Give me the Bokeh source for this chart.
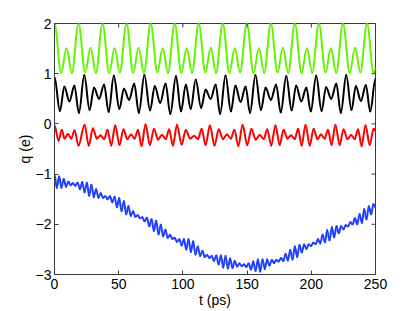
import numpy as np
from bokeh.plotting import figure
from bokeh.models import Range1d, FixedTicker, ColumnDataSource
from bokeh.embed import file_html
from bokeh.resources import INLINE

# ---------------- data (turning points of each curve) -------------
x_ticks = [0, 50, 100, 150, 200, 250]
y_ticks = [-3, -2, -1, 0, 1, 2]
y_tick_labels = ["\u22123", "\u22122", "\u22121", "0", "1", "2"]
x_label = "t (ps)"
y_label = "q (e)"

green_t = [0.0, 5.2, 9.4, 13.5, 18.7, 23.9, 28.1, 32.2, 37.4, 42.6, 46.8, 50.9,
           56.1, 61.3, 65.5, 69.6, 74.9, 80.1, 84.3, 88.4, 93.6, 98.8, 103.0, 107.1,
           112.3, 117.5, 121.7, 125.8, 131.0, 136.2, 140.4, 144.5, 149.8, 155.0, 159.2, 163.3,
           168.5, 173.7, 177.9, 182.0, 187.2, 192.4, 196.6, 200.7, 205.9, 211.1, 215.3, 219.4,
           224.7, 229.9, 234.1, 238.2, 243.4, 248.6, 250.0]
green_q = [2.0, 1.02, 1.5, 1.02, 2.0, 1.03, 1.51, 1.02, 2.0, 1.02, 1.5, 1.03,
           2.0, 1.02, 1.51, 1.02, 2.0, 1.03, 1.5, 1.02, 2.0, 1.02, 1.5, 1.02,
           2.0, 1.03, 1.51, 1.02, 2.0, 1.02, 1.5, 1.03, 2.0, 1.02, 1.5, 1.02,
           2.0, 1.03, 1.51, 1.02, 2.0, 1.02, 1.5, 1.02, 2.0, 1.03, 1.5, 1.02,
           2.0, 1.02, 1.51, 1.03, 2.0, 1.02, 1.1]

black_t = [0.0, 4.2, 7.7, 11.6, 15.5, 19.0,
           23.2, 27.3, 30.8, 34.7, 38.6, 42.2,
           46.2, 50.5, 54.1, 58.1, 62.1, 65.7,
           70.0, 74.4, 78.1, 82.3, 86.5, 90.2,
           94.6, 98.5, 102.3, 106.1,
           110.0, 114.2, 117.7, 121.6, 125.5, 129.0,
           133.2, 137.4, 140.9, 144.9, 148.8, 152.3,
           156.5, 160.8, 164.4, 168.5, 172.6, 176.2,
           180.5, 184.7, 188.2, 192.2, 196.1, 199.6,
           203.8, 208.0, 211.5, 215.5, 219.5, 223.0,
           227.2, 231.3, 234.7, 238.6, 242.5, 245.9, 250.0]
black_q = [0.93, 0.26, 0.74, 0.45, 0.76, 0.22,
           0.97, 0.28, 0.72, 0.50, 0.78, 0.24,
           0.96, 0.30, 0.70, 0.48, 0.80, 0.22,
           0.97, 0.27, 0.75, 0.42, 0.80, 0.20,
           0.95, 0.25, 0.78, 0.30,
           0.88, 0.32, 0.68, 0.50, 0.78, 0.20,
           0.96, 0.25, 0.76, 0.44, 0.74, 0.22,
           0.97, 0.28, 0.72, 0.48, 0.78, 0.23,
           0.95, 0.27, 0.76, 0.45, 0.72, 0.25,
           0.96, 0.26, 0.73, 0.50, 0.80, 0.22,
           0.97, 0.28, 0.75, 0.46, 0.77, 0.25, 0.90]

red_t = [0.0, 3.1, 5.7, 7.8, 10.4, 13.0, 15.6, 18.7,
         23.4, 26.7, 29.9, 33.0, 35.8, 38.7, 41.3, 44.2,
         47.3, 50.6, 53.7, 56.7, 59.6, 62.4, 65.0, 67.8,
         70.9, 74.3, 77.5, 80.7, 83.6, 86.6, 89.3, 92.2,
         95.4, 99.0, 102.3, 105.6, 108.7, 111.8, 114.6, 117.7,
         121.0, 124.6, 127.9, 131.2, 134.3, 137.3, 140.1, 143.2,
         146.5, 150.1, 153.4, 156.7, 159.8, 162.9, 165.7, 168.8,
         172.1, 175.4, 178.4, 181.5, 184.3, 187.1, 189.7, 192.5,
         195.5, 198.8, 201.8, 204.8, 207.6, 210.4, 213.0, 215.8,
         218.8, 222.1, 225.1, 228.2, 231.0, 233.8, 236.4, 239.2,
         242.2, 245.5, 248.5, 250.0]
red_q = [-0.03, -0.33, -0.12, -0.29, -0.20, -0.29, -0.13, -0.43,
         -0.02, -0.43, -0.09, -0.29, -0.23, -0.30, -0.12, -0.43,
         -0.03, -0.42, -0.11, -0.30, -0.21, -0.29, -0.12, -0.44,
         -0.01, -0.42, -0.10, -0.31, -0.22, -0.30, -0.11, -0.43,
         -0.02, -0.41, -0.12, -0.29, -0.24, -0.30, -0.10, -0.42,
         -0.03, -0.43, -0.11, -0.30, -0.21, -0.29, -0.12, -0.44,
         -0.02, -0.42, -0.10, -0.31, -0.22, -0.30, -0.11, -0.43,
         -0.03, -0.42, -0.12, -0.29, -0.23, -0.30, -0.10, -0.43,
         -0.02, -0.43, -0.10, -0.30, -0.21, -0.29, -0.12, -0.42,
         -0.02, -0.42, -0.11, -0.30, -0.22, -0.30, -0.11, -0.44,
         -0.03, -0.42, -0.10, -0.14]

blue_t = [0.0, 1.8, 3.6, 5.4, 7.2, 9.0, 10.8, 12.6, 14.4, 16.2,
          18.0, 19.8, 21.6, 23.4, 25.2, 27.0, 28.8, 30.6, 32.4, 34.2,
          36.0, 37.8, 39.6, 41.4, 43.2, 45.0, 46.8, 48.6, 50.4, 52.2,
          54.0, 55.8, 57.6, 59.4, 61.2, 63.0, 64.8, 66.6, 68.4, 70.2,
          72.0, 73.8, 75.6, 77.4, 79.2, 81.0, 82.8, 84.6, 86.4, 88.2,
          90.0, 91.8, 93.6, 95.4, 97.2, 99.0, 100.8, 102.6, 104.4, 106.2,
          108.0, 109.8, 111.6, 113.4, 115.2, 117.0, 118.8, 120.6, 122.4, 124.2,
          126.0, 127.8, 129.6, 131.4, 133.2, 135.0, 136.8, 138.6, 140.4, 142.2,
          144.0, 145.8, 147.6, 149.4, 151.2, 153.0, 154.8, 156.6, 158.4, 160.2,
          162.0, 163.8, 165.6, 167.4, 169.2, 171.0, 172.8, 174.6, 176.4, 178.2,
          180.0, 181.8, 183.6, 185.4, 187.2, 189.0, 190.8, 192.6, 194.4, 196.2,
          198.0, 199.8, 201.6, 203.4, 205.2, 207.0, 208.8, 210.6, 212.4, 214.2,
          216.0, 217.8, 219.6, 221.4, 223.2, 225.0, 226.8, 228.6, 230.4, 232.2,
          234.0, 235.8, 237.6, 239.4, 241.2, 243.0, 244.8, 246.6, 248.4, 250.0]
blue_q = [-1.02, -1.27, -1.05, -1.27, -1.10, -1.25, -1.15, -1.22, -1.18, -1.23,
          -1.17, -1.30, -1.16, -1.36, -1.17, -1.43, -1.21, -1.46, -1.30, -1.47,
          -1.38, -1.47, -1.44, -1.50, -1.44, -1.56, -1.45, -1.66, -1.48, -1.74,
          -1.54, -1.80, -1.64, -1.83, -1.74, -1.85, -1.82, -1.88, -1.86, -1.94,
          -1.87, -2.04, -1.90, -2.13, -1.93, -2.20, -2.01, -2.24, -2.11, -2.27,
          -2.21, -2.29, -2.27, -2.35, -2.30, -2.42, -2.30, -2.50, -2.30, -2.55,
          -2.34, -2.60, -2.44, -2.63, -2.53, -2.65, -2.61, -2.67, -2.63, -2.73,
          -2.62, -2.80, -2.62, -2.86, -2.63, -2.88, -2.68, -2.87, -2.73, -2.84,
          -2.78, -2.83, -2.80, -2.85, -2.78, -2.90, -2.74, -2.93, -2.70, -2.94,
          -2.70, -2.89, -2.70, -2.82, -2.71, -2.77, -2.71, -2.74, -2.67, -2.73,
          -2.59, -2.72, -2.51, -2.70, -2.44, -2.65, -2.41, -2.56, -2.40, -2.49,
          -2.40, -2.43, -2.37, -2.39, -2.30, -2.38, -2.21, -2.36, -2.12, -2.32,
          -2.06, -2.26, -2.04, -2.18, -2.04, -2.10, -2.02, -2.04, -1.96, -2.00,
          -1.88, -2.00, -1.80, -1.97, -1.70, -1.90, -1.64, -1.80, -1.60, -1.66]

series = [
    (green_t, green_q, "#62f500"),
    (black_t, black_q, "#000000"),
    (red_t, red_q, "#ff0000"),
    (blue_t, blue_q, "#2040ff"),
]

FONT = "Liberation Sans"
AX_COLOR = "#3a3a3a"


def smooth_segments(t, q, h=0.36):
    """Cubic Bezier pieces between successive turning points (flat tangents at each)."""
    t = np.asarray(t, dtype=float)
    q = np.asarray(q, dtype=float)
    x0, x1, y0, y1 = t[:-1], t[1:], q[:-1], q[1:]
    d = x1 - x0
    return ColumnDataSource(dict(x0=x0, y0=y0, x1=x1, y1=y1,
                                 cx0=x0 + h * d, cy0=y0, cx1=x1 - h * d, cy1=y1))


p = figure(width=408, height=311, output_backend="svg", toolbar_location=None,
           x_range=Range1d(0, 250), y_range=Range1d(-3, 2),
           min_border_left=54, min_border_right=33, min_border_top=23,
           min_border_bottom=37)
p.background_fill_color = "white"
p.border_fill_color = "white"
p.grid.visible = False
p.outline_line_color = AX_COLOR
p.outline_line_width = 1

for t, q, c in series:
    p.bezier(x0="x0", y0="y0", x1="x1", y1="y1", cx0="cx0", cy0="cy0",
             cx1="cx1", cy1="cy1", source=smooth_segments(t, q),
             line_color=c, line_width=2, line_cap="round")

# mirrored inward ticks on the top and right edges (box style)
x_hi = 250
y_hi = 2
p.ray(x=x_ticks, y=[y_hi] * len(x_ticks), length=4, length_units="screen",
      angle=-np.pi / 2, line_color=AX_COLOR, line_width=1)
p.ray(x=[x_hi] * len(y_ticks), y=y_ticks, length=4, length_units="screen",
      angle=np.pi, line_color=AX_COLOR, line_width=1)


def style_axis(ax, ticks):
    ax.ticker = FixedTicker(ticks=ticks)
    ax.minor_tick_line_color = None
    ax.major_tick_in = 4
    ax.major_tick_out = 0
    ax.major_tick_line_color = AX_COLOR
    ax.axis_line_color = AX_COLOR
    ax.axis_line_width = 1
    ax.major_label_text_font = FONT
    ax.major_label_text_color = "black"
    ax.major_label_text_font_size = "14px"
    ax.axis_label_text_font = FONT
    ax.axis_label_text_font_size = "14px"
    ax.axis_label_text_font_style = "normal"
    ax.axis_label_text_color = "black"


xa = p.xaxis[0]
ya = p.yaxis[0]
style_axis(xa, x_ticks)
style_axis(ya, y_ticks)
ya.major_label_overrides = {v: s for v, s in zip(y_ticks, y_tick_labels)}
xa.axis_label = x_label
ya.axis_label = y_label
xa.major_label_standoff = 4
xa.axis_label_standoff = 0
ya.major_label_standoff = 3
ya.axis_label_standoff = 0

open("out.html", "w").write(file_html(p, INLINE))
